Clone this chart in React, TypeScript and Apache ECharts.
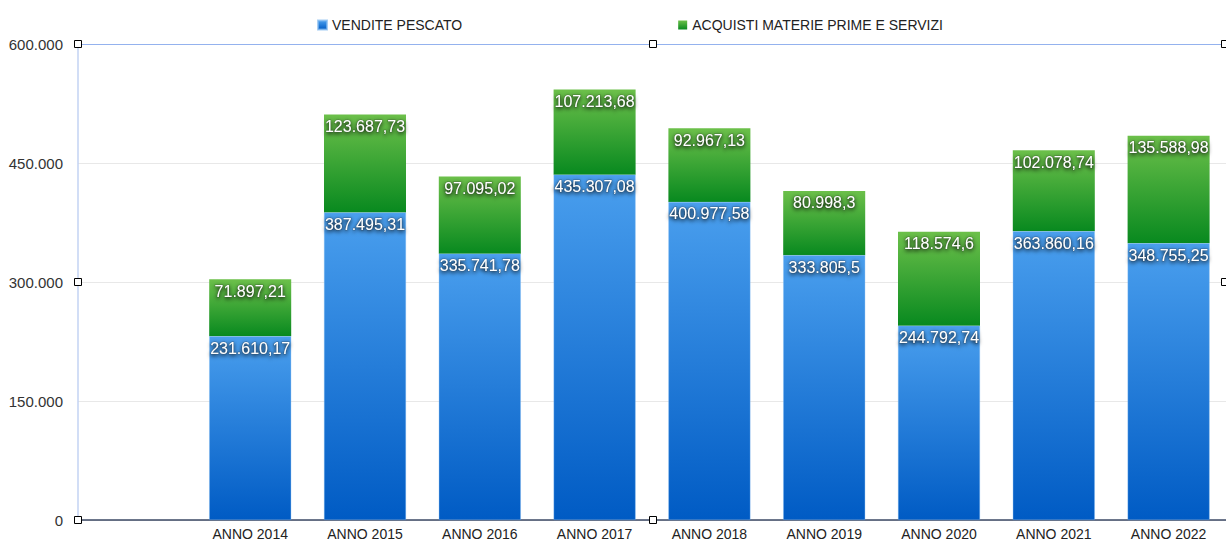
import React, { useEffect, useRef } from "react";
import * as echarts from "echarts";

const categories = ["", "ANNO 2014", "ANNO 2015", "ANNO 2016", "ANNO 2017", "ANNO 2018", "ANNO 2019", "ANNO 2020", "ANNO 2021", "ANNO 2022"];
const vendite = [null, 231610.17, 387495.31, 335741.78, 435307.08, 400977.58, 333805.5, 244792.74, 363860.16, 348755.25];
const acquisti = [null, 71897.21, 123687.73, 97095.02, 107213.68, 92967.13, 80998.3, 118574.6, 102078.74, 135588.98];
const yTicks = [0, 150000, 300000, 450000, 600000];

function fmtIt(v: number, maxDec = 2): string {
  const neg = v < 0;
  v = Math.abs(v);
  let s = v.toFixed(maxDec);
  let [ip, dp] = s.split(".");
  if (dp) dp = dp.replace(/0+$/, "");
  ip = ip.replace(/\B(?=(\d{3})+(?!\d))/g, ".");
  return (neg ? "-" : "") + ip + (dp ? "," + dp : "");
}

const FONT = "'Liberation Sans', Arial, Helvetica, sans-serif";

export default function App() {
  const ref = useRef<HTMLDivElement>(null);
  useEffect(() => {
    document.body.style.margin = "0";
    const chart = echarts.init(ref.current!, null, { renderer: "svg" });
    const labelStyle = {
      show: true,
      position: "insideTop",
      distance: 4,
      color: "#fff",
      fontSize: 16,
      fontFamily: FONT,
      textShadowColor: "rgba(0,0,0,0.95)",
      textShadowBlur: 4,
      textShadowOffsetY: 1.5,
      textBorderColor: "rgba(40,40,40,0.35)",
      textBorderWidth: 1,
      formatter: (p: any) => (p.value == null ? "" : fmtIt(p.value)),
    };
    const handle = (x: number, y: number) => ({
      type: "rect",
      shape: { x: x - 3.5, y: y - 3.5, width: 7, height: 7 },
      style: { fill: "#fff", stroke: "#000", lineWidth: 1 },
      z: 100,
    });
    chart.setOption({
      animation: false,
      textStyle: { fontFamily: FONT },
      legend: {
        top: 13,
        left: 312,
        itemWidth: 9,
        itemHeight: 9,
        itemGap: 216,
        icon: "rect",
        textStyle: { fontSize: 14, color: "#222", fontFamily: FONT },
        data: ["VENDITE PESCATO", "ACQUISTI MATERIE PRIME E SERVIZI"],
      },
      grid: { left: 78, right: 0, top: 44, bottom: 21, containLabel: false },
      xAxis: {
        type: "category",
        data: categories,
        axisTick: { show: false },
        axisLine: { lineStyle: { color: "#3c4a66", width: 1.5 } },
        axisLabel: { color: "#222", fontSize: 14, margin: 7, interval: 0, fontFamily: FONT },
      },
      yAxis: {
        type: "value",
        min: yTicks[0],
        max: yTicks[yTicks.length - 1],
        interval: 150000,
        axisLine: { show: true, lineStyle: { color: "#c3d3f3", width: 1.5 } },
        axisTick: { show: false },
        axisLabel: { color: "#333", fontSize: 15, margin: 15, fontFamily: FONT, formatter: (v: number) => fmtIt(v) },
        splitLine: { lineStyle: { color: ["#ddd", "#e8e8e8", "#e8e8e8", "#e8e8e8", "#94b2ee"], width: 1 } },
      },
      series: [
        {
          name: "VENDITE PESCATO",
          type: "bar",
          stack: "tot",
          barWidth: 82,
          data: vendite,
          itemStyle: {
            color: new echarts.graphic.LinearGradient(0, 0, 0, 1, [
              { offset: 0, color: "#4a9fee" },
              { offset: 1, color: "#005bc4" },
            ]),
            borderColor: "rgba(130,185,240,0.7)",
            borderWidth: 0.5,
          },
          label: labelStyle,
          z: 3,
        },
        {
          name: "ACQUISTI MATERIE PRIME E SERVIZI",
          type: "bar",
          stack: "tot",
          barWidth: 82,
          data: acquisti,
          itemStyle: {
            color: new echarts.graphic.LinearGradient(0, 0, 0, 1, [
              { offset: 0, color: "#6cc04a" },
              { offset: 1, color: "#08891f" },
            ]),
          },
          label: labelStyle,
          z: 2,
        },
      ],
      graphic: [
        handle(78, 44),
        handle(653, 44),
        handle(1225, 44),
        handle(78, 282),
        handle(1225, 282),
        handle(78, 520),
        handle(653, 520),
      ],
    });
    return () => chart.dispose();
  }, []);
  return <div ref={ref} style={{ width: 1226, height: 541 }} />;
}
